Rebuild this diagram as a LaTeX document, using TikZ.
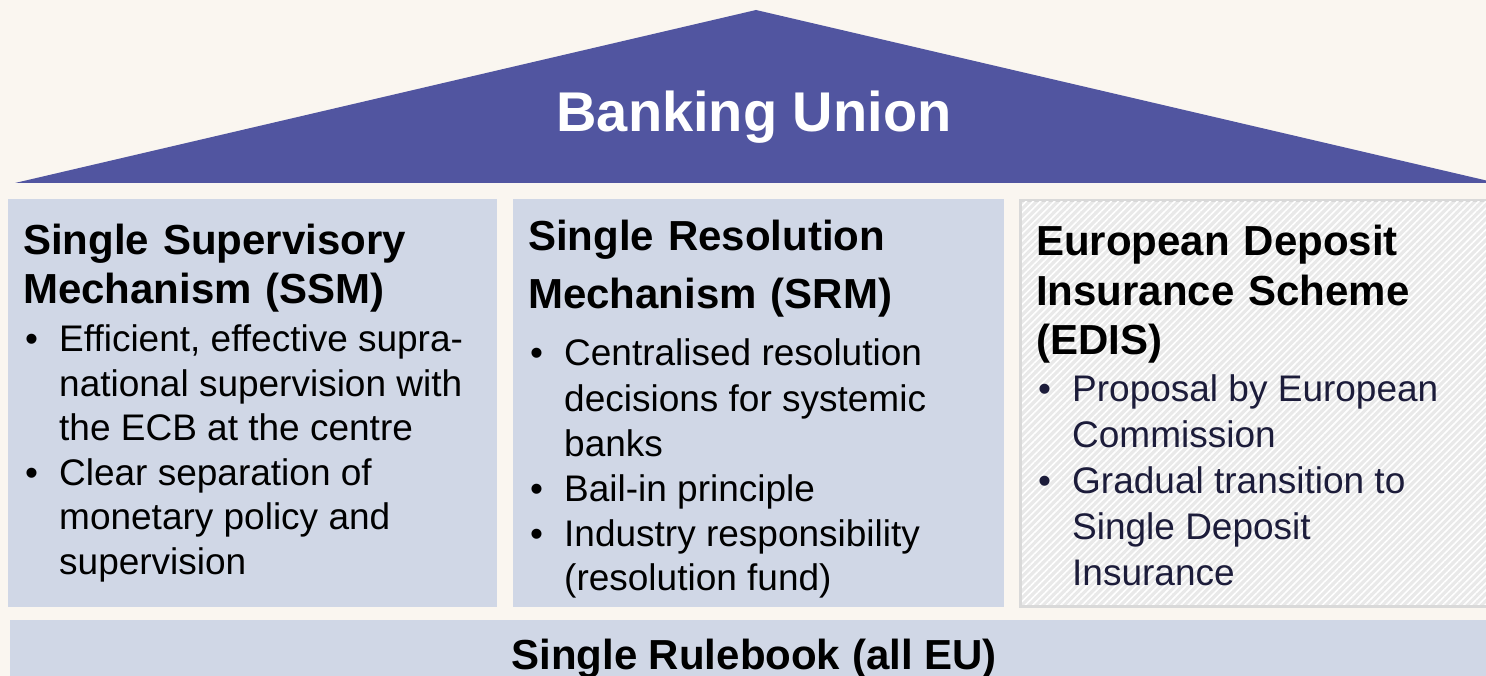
\documentclass[tikz,border=0pt]{standalone}
\usepackage{fontspec}
\setmainfont{Liberation Sans}
\usetikzlibrary{patterns.meta}
\definecolor{cream}{HTML}{FAF6F0}
\definecolor{roofblue}{HTML}{5155A0}
\definecolor{pillarblue}{HTML}{D0D7E6}
\definecolor{edisgrey}{HTML}{D9D9D9}
\definecolor{edisfill}{HTML}{E9E9E9}
\definecolor{edistext}{HTML}{1C1C3A}
\newcommand{\bul}[1]{\par\hangindent=34pt\hangafter=1\noindent\makebox[34pt][l]{\textbullet}#1}
\newcommand{\bullets}[1]{\begin{minipage}[t]{450pt}\parindent=0pt#1\end{minipage}}

\begin{document}
\begin{tikzpicture}[x=1pt,y=-1pt,
    pillar/.style={fill=pillarblue},
    heading/.style={anchor=base west,inner sep=0pt,align=left,text width=#1,
      font=\fontsize{42}{49}\selectfont\bfseries},
    body/.style={anchor=base west,inner sep=0pt,
      font=\fontsize{37}{44.5}\selectfont}]
    \useasboundingbox (0,0) rectangle (1486,676);
    \fill[cream] (0,0) rectangle (1486,676);
    \fill[roofblue] (15,183) -- (756,10) -- (1497,183) -- cycle;
    \node[anchor=base,inner sep=0pt,text=white,font=\fontsize{56}{60}\selectfont\bfseries]
      (union) at (754,132) {Banking Union};
    \fill[pillar] (8,199) rectangle (497,607);
    \fill[pillar] (513,199) rectangle (1004,607);
    \draw[edisgrey,line width=3pt,fill=edisfill] (1020.5,200.5) rectangle (1500,606);
    \fill[pattern={Lines[angle=45,distance=5pt,line width=1.6pt]},pattern color=white]
      (1022,202) rectangle (1500,604.5);
    \fill[pillar] (10,620) rectangle (1500,690);
    \node[heading=470] (ssmhead) at (23,255) {Single Supervisory\\Mechanism (SSM)};
    \node[body] (ssmbody) at (25,352) {\bullets{%
      \bul{Efficient, effective supra-\newline national supervision with\newline the ECB at the centre}
      \bul{Clear separation of\newline monetary policy and\newline supervision}}};
    \node[heading=470,font=\fontsize{42}{58}\selectfont\bfseries] (srmhead) at (528,251)
      {Single Resolution\\Mechanism (SRM)};
    \node[body,font=\fontsize{37}{45}\selectfont] (srmbody) at (530,366) {\bullets{%
      \bul{Centralised resolution\newline decisions for systemic\newline banks}
      \bul{Bail-in principle}
      \bul{Industry responsibility\newline (resolution fund)}}};
    \node[heading=450,font=\fontsize{42}{49.5}\selectfont\bfseries] (edishead) at (1036,256)
      {European Deposit\\Insurance Scheme\\(EDIS)};
    \node[body,font=\fontsize{37}{46}\selectfont,text=edistext] (edisbody) at (1038,401) {\bullets{%
      \bul{Proposal by European\newline Commission}
      \bul{Gradual transition to\newline Single Deposit\newline Insurance}}};
    \node[anchor=base,inner sep=0pt,font=\fontsize{42}{49}\selectfont\bfseries]
      (rulebook) at (754,669) {Single Rulebook (all EU)};
\end{tikzpicture}
\end{document}
